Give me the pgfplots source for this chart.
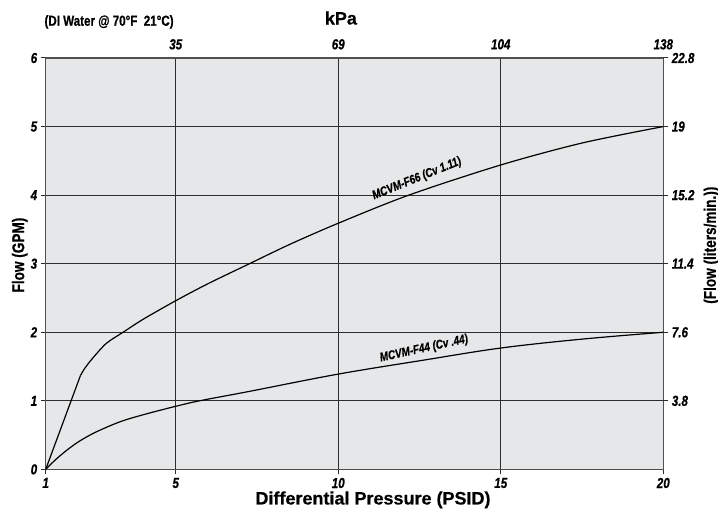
\documentclass[border=0pt]{standalone}
\usepackage{fontspec}
\setmainfont{Liberation Sans}
\newfontfamily\cond[FakeStretch=0.8, FakeBold=0.6]{Liberation Sans}
\newfontfamily\wide[FakeBold=0.4]{Liberation Sans}
\usepackage{pgfplots}
\pgfplotsset{compat=1.18}

\definecolor{bgc}{RGB}{230,231,232}
\definecolor{gridc}{RGB}{45,45,45}
\definecolor{boxc}{RGB}{80,80,80}

\newcommand\tickfont{\cond\bfseries\itshape\fontsize{14.5}{16}\selectfont}
\newcommand\labfont{\wide\bfseries\fontsize{18}{20}\selectfont}
\newcommand\condlab{\cond\bfseries\fontsize{17}{19}\selectfont}
\newcommand\curvefont{\cond\bfseries\itshape\fontsize{12.5}{14}\selectfont}

\begin{document}
\begin{tikzpicture}
\path[use as bounding box] (0,0) rectangle (718pt,513pt);

% GPM vs PSID
\begin{axis}[
    at={(45.7pt,43.6pt)}, anchor=south west,
    scale only axis, width=617.6pt, height=411.4pt,
    xmin=1, xmax=20, ymin=0, ymax=6,
    xtick={1,5,10,15,20},
    ytick={0,1,2,3,4,5,6},
    xtick pos=bottom, ytick pos=left,
    tick align=outside, major tick length=5pt,
    grid=major,
    major grid style={line width=1.1pt, color=gridc},
    axis line style={line width=1.2pt, color=boxc},
    tick style={line width=1pt, color=gridc},
    axis background/.style={fill=bgc},
    ticklabel style={font=\tickfont},
    /pgf/number format/assume math mode=true,
    xlabel={Differential Pressure (PSID)},
    xlabel style={font=\labfont, at={(axis description cs:0.53,-0.074)}, anchor=center},
    ylabel={Flow (GPM)},
    ylabel style={font=\condlab, at={(axis description cs:-0.042,0.521)}, anchor=center},
]

\addplot[black, line width=1.2pt]
  coordinates {(1,0) (2.07,1.37)};
\addplot[black, line width=1.2pt, smooth, tension=0.5]
  coordinates {
    (2.07,1.37) (2.21,1.48) (2.46,1.63) (2.87,1.84)
    (3.38,2.0) (4,2.19) (5,2.46) (6,2.71) (7.27,3.0) (8.5,3.28)
    (10,3.59) (12.17,4.0) (15,4.44) (17.5,4.76) (20,5.0)
  };

\addplot[black, line width=1.2pt, smooth, tension=0.6]
  coordinates {
    (1,0) (1.3,0.14) (1.65,0.28) (2.0,0.40) (2.4,0.51) (2.85,0.61)
    (3.38,0.71) (4.1,0.81) (5,0.92) (5.73,1.0) (7.29,1.14) (10,1.39)
    (12.58,1.59) (15,1.77) (17.5,1.90) (20,2.0)
  };

\node[font=\curvefont, rotate=22] at (axis cs:12.42,4.24) {MCVM-F66 (Cv 1.11)};
\node[font=\curvefont, rotate=12.4] at (axis cs:12.64,1.76) {MCVM-F44 (Cv .44)};
\end{axis}

% kPa and liters/min
\begin{axis}[
    at={(45.7pt,43.6pt)}, anchor=south west,
    scale only axis, width=617.6pt, height=411.4pt,
    xmin=1, xmax=20, ymin=0, ymax=6,
    axis x line*=top, axis y line*=right,
    axis line style={draw=none},
    xtick={5,10,15,20},
    xticklabels={35,69,104,138},
    ytick={1,2,3,4,5,6},
    yticklabels={3.8,7.6,11.4,15.2,19,22.8},
    tick align=outside, major tick length=5pt,
    x tick style={draw=none},
    y tick style={line width=1pt, color=gridc},
    ticklabel style={font=\tickfont},
    xlabel={kPa},
    xlabel style={font=\labfont, at={(axis description cs:0.478,1.097)}, anchor=center},
    ylabel={(Flow (liters/min.))},
    ylabel style={font=\condlab, at={(axis description cs:1.078,0.545)}, anchor=center},
]
\end{axis}

\node[anchor=west, font=\cond\bfseries\fontsize{14.5}{16}\selectfont]
  at (41pt,491pt) {(DI Water @ 70°F\ \ 21°C)};
\end{tikzpicture}
\end{document}
